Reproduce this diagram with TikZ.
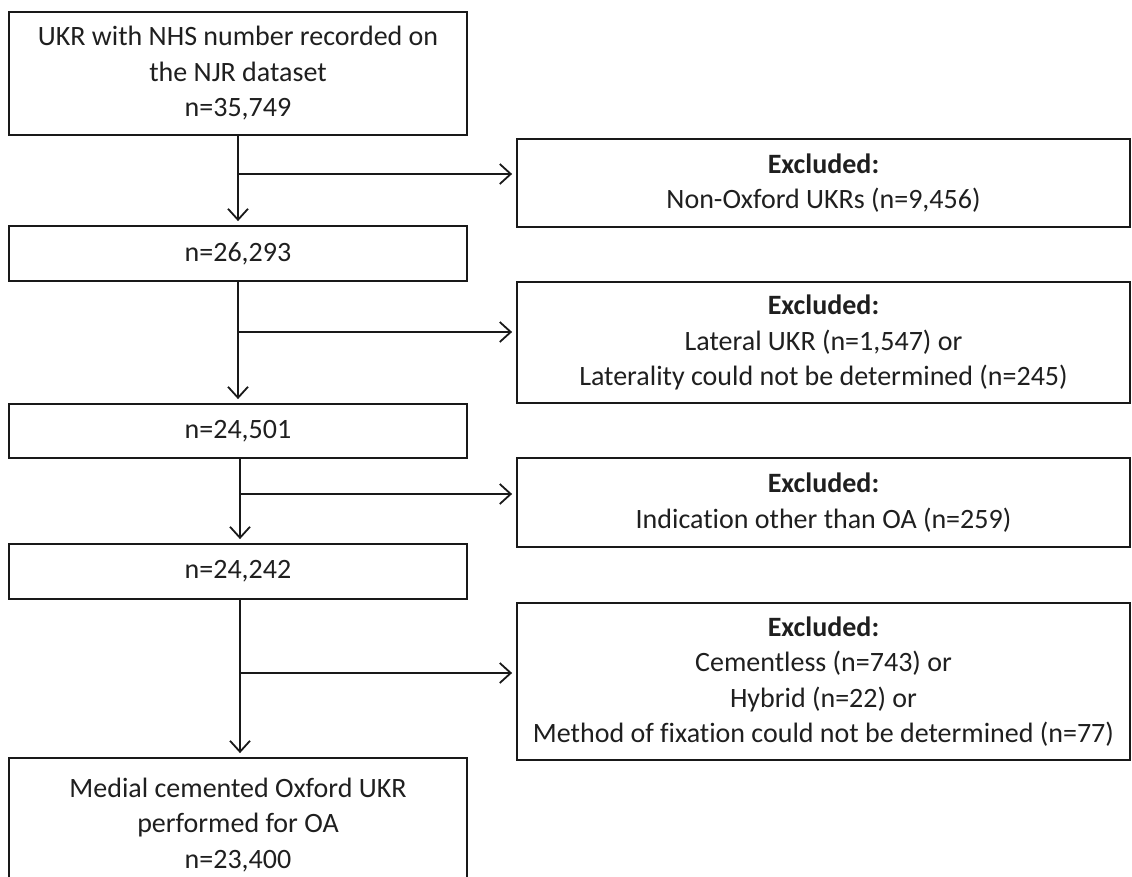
\documentclass[tikz,border=0pt]{standalone}
\usepackage{fontspec}
\setmainfont{Carlito}[Ligatures=NoCommon]
\usetikzlibrary{arrows.meta}
\begin{document}
\begin{tikzpicture}[x=1pt,y=-1pt,
  box/.style={draw=black!90, line width=1.8pt, inner sep=0pt, align=center,
    font=\fontsize{28}{35.5}\selectfont, text=black!88},
  flow/.style={draw=black!90, line width=1.8pt, -{Straight Barb[length=11pt,width=20pt]}, shorten >=4pt}]
\clip (0,0) rectangle (1132,876);
\fill[white] (0,0) rectangle (1132,876);
% main column
\node[box, minimum width=458pt, minimum height=123pt] (n1) at (238,73.5)
  {UKR with NHS number recorded on\\the NJR dataset\\n=35,749};
\node[box, minimum width=458pt, minimum height=55pt] (n2) at (238,253.5) {n=26,293};
\node[box, minimum width=458pt, minimum height=54pt] (n3) at (238,431) {n=24,501};
\node[box, minimum width=458pt, minimum height=55pt] (n4) at (238,571.5) {n=24,242};
\node[box, minimum width=458pt, minimum height=134pt] (n5) at (238,825)
  {Medial cemented Oxford UKR\\performed for OA\\n=23,400};
% excluded column
\node[box, minimum width=613pt, minimum height=88pt] (e1) at (823.5,183)
  {\textbf{Excluded:}\\Non-Oxford UKRs (n=9,456)};
\node[box, minimum width=613pt, minimum height=121pt] (e2) at (823.5,342.5)
  {\textbf{Excluded:}\\Lateral UKR (n=1,547) or\\Laterality could not be determined (n=245)};
\node[box, minimum width=613pt, minimum height=89pt] (e3) at (823.5,502.5)
  {\textbf{Excluded:}\\Indication other than OA (n=259)};
\node[box, minimum width=613pt, minimum height=157pt] (e4) at (823.5,681.5)
  {\textbf{Excluded:}\\Cementless (n=743) or\\Hybrid (n=22) or\\Method of fixation could not be determined (n=77)};
% branch points
\coordinate (b1) at (238,174);
\coordinate (b2) at (238,332);
\coordinate (b3) at (240,494);
\coordinate (b4) at (240,673);
% vertical arrows
\draw[flow] (n1.south) -- (n2.north);
\draw[flow] (n2.south) -- (n3.north);
\draw[flow] ([xshift=2pt]n3.south) -- ([xshift=2pt]n4.north);
\draw[flow] ([xshift=2pt]n4.south) -- ([xshift=2pt]n5.north);
% horizontal arrows
\draw[flow] (b1) -- (b1 -| e1.west);
\draw[flow] (b2) -- (b2 -| e2.west);
\draw[flow] (b3) -- (b3 -| e3.west);
\draw[flow] (b4) -- (b4 -| e4.west);
\end{tikzpicture}
\end{document}
